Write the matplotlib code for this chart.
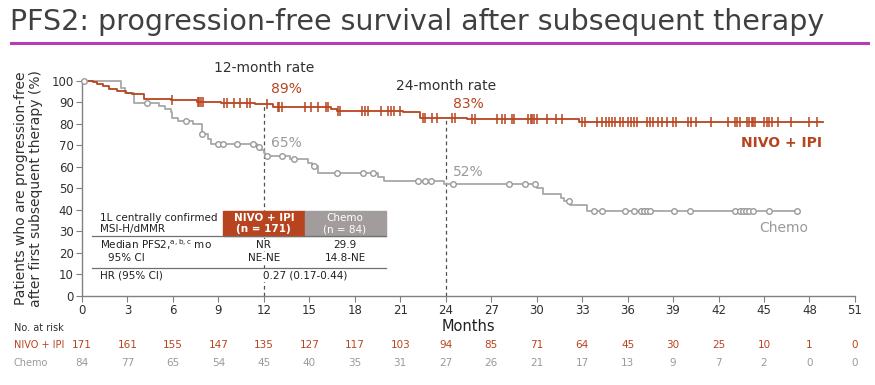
import numpy as np
import matplotlib
matplotlib.use("Agg")
import matplotlib.pyplot as plt
from matplotlib.patches import Rectangle

RED = "#B8441F"
GRAY = "#A8A8A8"
BOXGRAY = "#A39C9C"
DARK = "#404040"

# -----------------------------
# data
# -----------------------------
nivo_t = [0, 0.7, 1.0, 1.4, 1.8, 2.3, 2.9, 3.3, 4.1, 5.9, 7.6, 9.2, 11.4, 12.6, 16.4, 16.8, 21.2, 22.3, 25.4, 32.8]
nivo_s = [100, 99.2, 98.5, 97.5, 96.3, 95.2, 94.5, 93.8, 91.6, 90.9, 90.3, 89.6, 89.0, 88.0, 86.8, 86.0, 85.4, 82.6, 82.1, 80.8]
nivo_end = 48.9
nivo_cens = [5.96, 7.65, 7.75, 7.85, 8.0, 9.4, 9.55, 10.0, 10.4, 10.9, 11.1, 12.2, 12.9, 13.0, 13.2,
             14.7, 15.1, 15.6, 16.1, 16.2, 16.9, 17.0, 18.5, 18.7, 18.9, 19.7, 20.2, 20.4, 20.6, 21.0,
             22.5, 22.6, 23.1, 23.4, 24.4, 24.6, 25.7, 25.9, 27.4, 27.7, 27.9, 28.4, 28.5, 29.4, 29.6,
             29.7, 29.8, 30.0, 30.7, 31.3, 31.7, 33.0, 33.2, 34.0, 34.3, 34.6, 34.8, 35.0, 35.2, 35.5,
             35.7, 36.0, 36.2, 36.4, 36.6, 37.3, 37.5, 37.7, 38.0, 38.3, 38.6, 39.0, 39.2, 40.0, 40.2,
             40.5, 41.5, 42.6, 43.1, 43.2, 43.4, 43.9, 44.0, 44.2, 44.3, 44.4, 45.0, 45.2, 45.3, 45.5,
             45.9, 46.8, 48.0, 48.5]

chemo_t = [0, 2.6, 2.85, 3.4, 5.1, 5.5, 5.85, 5.95, 6.35, 7.3, 7.9, 8.3, 8.5, 11.55, 11.8, 12.0, 12.1,
           13.7, 14.9, 15.2, 15.6, 19.5, 19.9, 23.9, 30.0, 30.4, 31.6, 31.8, 32.2, 33.3]
chemo_s = [100, 96.5, 94.1, 89.8, 88.4, 86.7, 85.6, 82.5, 81.4, 79.9, 75.2, 72.8, 70.6, 69.4, 67.8, 66.3, 65.0,
           63.6, 61.6, 60.4, 57.3, 55.5, 53.4, 52.2, 50.0, 47.2, 45.7, 44.1, 42.3, 39.6]
chemo_end = 47.2
chemo_cens = [0.1, 4.3, 6.86, 7.95, 9.0, 9.3, 10.2, 11.3, 11.7, 12.2, 13.2, 14.0, 15.3, 16.85, 18.55,
              19.2, 22.2, 22.6, 23.0, 24.45, 28.2, 29.2, 29.9, 32.1, 33.8, 34.3, 35.8, 36.4, 36.9,
              37.1, 37.3, 37.5, 39.05, 40.1, 43.1, 43.4, 43.6, 43.8, 44.0, 44.3, 45.3, 47.2]

risk_months = list(range(0, 52, 3))
nivo_risk = [171, 161, 155, 147, 135, 127, 117, 103, 94, 85, 71, 64, 45, 30, 25, 10, 1, 0]
chemo_risk = [84, 77, 65, 54, 45, 40, 35, 31, 27, 26, 21, 17, 13, 9, 7, 2, 0, 0]


def surv_at(t, s, x):
    idx = np.searchsorted(t, x, side="right") - 1
    return np.array(s)[idx]


fig = plt.figure(figsize=(8.75, 3.85), dpi=100)
ax = fig.add_axes([0.0937, 0.2312, 0.8834, 0.5592])

# -----------------------------
# title
# -----------------------------
fig.text(0.012, 0.943, "PFS2: progression-free survival after subsequent therapy",
         fontsize=20.5, color=DARK, va="center", ha="left")
fig.add_artist(plt.Line2D([0.012, 0.992], [0.888, 0.888], color="#B63DB5", lw=2.2))

# -----------------------------
# curves
# -----------------------------
ax.step(nivo_t + [nivo_end], nivo_s + [nivo_s[-1]], where="post", color=RED, lw=1.3, zorder=4, clip_on=False)
ax.plot(nivo_cens, surv_at(nivo_t, nivo_s, nivo_cens), ls="none", marker="|", ms=7, mew=1.1,
        color=RED, zorder=5, clip_on=False)

ax.step(chemo_t + [chemo_end], chemo_s + [chemo_s[-1]], where="post", color=GRAY, lw=1.3, zorder=3, clip_on=False)
ax.plot(chemo_cens, surv_at(chemo_t, chemo_s, chemo_cens), ls="none", marker="o", ms=4, mew=1.0,
        mfc="white", mec="#999999", zorder=4, clip_on=False)

# landmark lines
ax.plot([12, 12], [0, surv_at(nivo_t, nivo_s, [12])[0]], ls=(0, (3, 2.5)), color="#505050", lw=0.9, zorder=2)
ax.plot([24, 24], [0, surv_at(nivo_t, nivo_s, [24])[0]], ls=(0, (3, 2.5)), color="#505050", lw=0.9, zorder=2)

ax.text(12, 102.5, "12-month rate", ha="center", va="bottom", fontsize=10, color="#303030")
ax.text(12.5, 93, "89%", ha="left", va="bottom", fontsize=10, color=RED)
ax.text(12.5, 68, "65%", ha="left", va="bottom", fontsize=10, color="#9A9A9A")
ax.text(24, 94.5, "24-month rate", ha="center", va="bottom", fontsize=10, color="#303030")
ax.text(24.5, 86, "83%", ha="left", va="bottom", fontsize=10, color=RED)
ax.text(24.5, 54.5, "52%", ha="left", va="bottom", fontsize=10, color="#9A9A9A")
ax.text(48.8, 71, "NIVO + IPI", ha="right", va="center", fontsize=10, color=RED, fontweight="bold")
ax.text(47.9, 31.5, "Chemo", ha="right", va="center", fontsize=10, color="#9A9A9A")

# -----------------------------
# summary table
# -----------------------------
ax.add_patch(Rectangle((9.3, 27.9), 5.4, 11.6, color=RED, zorder=6))
ax.add_patch(Rectangle((14.7, 27.9), 5.35, 11.6, color=BOXGRAY, zorder=6))
ax.plot([0.66, 20.05], [27.9, 27.9], color="#707070", lw=0.9, zorder=6)
ax.plot([0.66, 20.05], [13.0, 13.0], color="#707070", lw=0.9, zorder=6)

tfs = 7.5
bg = dict(facecolor="white", edgecolor="none", pad=0.5)
ax.text(1.2, 36.2, "1L centrally confirmed", fontsize=tfs, color="#202020", va="center", zorder=7)
ax.text(1.2, 31.1, "MSI-H/dMMR", fontsize=tfs, color="#202020", va="center", zorder=7)
ax.text(12.0, 36.2, "NIVO + IPI", fontsize=tfs, color="white", ha="center", va="center", zorder=7, fontweight="bold")
ax.text(12.0, 31.1, "(n = 171)", fontsize=tfs, color="white", ha="center", va="center", zorder=7, fontweight="bold")
ax.text(17.35, 36.2, "Chemo", fontsize=tfs, color="white", ha="center", va="center", zorder=7)
ax.text(17.35, 31.1, "(n = 84)", fontsize=tfs, color="white", ha="center", va="center", zorder=7)
ax.text(1.2, 23.7, r"Median PFS2,$^{\mathrm{a,b,c}}$ mo", fontsize=tfs, color="#202020", va="center", zorder=7)
ax.text(12.0, 23.7, "NR", fontsize=tfs, color="#202020", ha="center", va="center", zorder=7, bbox=bg)
ax.text(17.35, 23.7, "29.9", fontsize=tfs, color="#202020", ha="center", va="center", zorder=7)
ax.text(1.7, 17.6, "95% CI", fontsize=tfs, color="#202020", va="center", zorder=7)
ax.text(12.0, 17.6, "NE-NE", fontsize=tfs, color="#202020", ha="center", va="center", zorder=7, bbox=bg)
ax.text(17.35, 17.6, "14.8-NE", fontsize=tfs, color="#202020", ha="center", va="center", zorder=7)
ax.text(1.2, 9.3, "HR (95% CI)", fontsize=tfs, color="#202020", va="center", zorder=7)
ax.text(14.7, 9.3, "0.27 (0.17-0.44)", fontsize=tfs, color="#202020", ha="center", va="center", zorder=7, bbox=bg)

# -----------------------------
# axes styling
# -----------------------------
ax.set_xlim(0, 51)
ax.set_ylim(0, 100)
ax.set_xticks(range(0, 52, 3))
ax.set_yticks(range(0, 101, 10))
for side in ["top", "right"]:
    ax.spines[side].set_visible(False)
for side in ["left", "bottom"]:
    ax.spines[side].set_color("#808080")
    ax.spines[side].set_linewidth(1.0)
ax.tick_params(direction="out", length=4, color="#808080", labelsize=8.5, labelcolor="#303030", pad=2)
ax.set_xlabel("Months", fontsize=10.5, color="#202020", labelpad=1)
ax.set_ylabel("Patients who are progression-free\nafter first subsequent therapy (%)",
              fontsize=10, color="#303030", labelpad=6, linespacing=1.1)

# number at risk
xt = ax.get_xaxis_transform()
fig.text(0.016, 1 - 328 / 385, "No. at risk", fontsize=7, color="#303030", va="center")
fig.text(0.016, 1 - 345 / 385, "NIVO + IPI", fontsize=7, color=RED, va="center")
fig.text(0.016, 1 - 363 / 385, "Chemo", fontsize=7, color="#9A9A9A", va="center")
for m, n1, n2 in zip(risk_months, nivo_risk, chemo_risk):
    ax.text(m, -0.2276, str(n1), transform=xt, ha="center", va="center", fontsize=7.5, color=RED, clip_on=False)
    ax.text(m, -0.311, str(n2), transform=xt, ha="center", va="center", fontsize=7.5, color="#9A9A9A", clip_on=False)

plt.savefig("out.png", dpi=100)
